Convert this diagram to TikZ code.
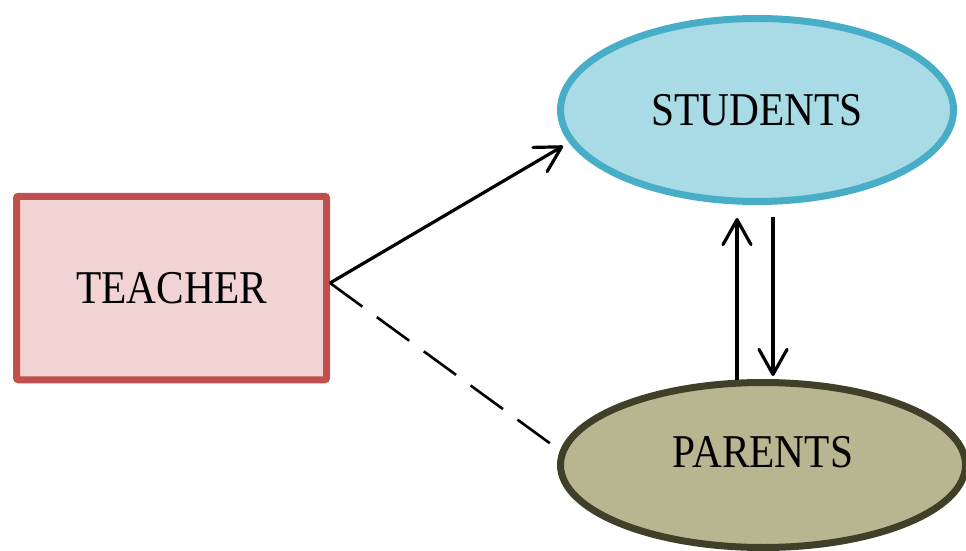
\documentclass[tikz,border=0pt]{standalone}
\usepackage{fontspec}
\setmainfont{Liberation Serif}[FakeStretch=0.88]
\usetikzlibrary{shapes.geometric,arrows.meta,calc}
\definecolor{tfill}{HTML}{F0D3D2}
\definecolor{tline}{HTML}{C0504D}
\definecolor{sfill}{HTML}{A8DBE5}
\definecolor{sline}{HTML}{48ADC6}
\definecolor{pfill}{HTML}{B8B591}
\definecolor{pline}{HTML}{403F28}
\tikzset{
  lbl/.style={font=\fontsize{47}{54}\selectfont, inner sep=0pt, text=black},
  box/.style={lbl, rectangle, line width=7pt, rounded corners=2pt},
  oval/.style={lbl, ellipse, line width=7pt},
  conn/.style={line width=3.2pt, -{Straight Barb[length=25pt,width=28pt,round]}},
  dashconn/.style={line width=2.6pt, dash pattern=on 40pt off 18pt},
}
\begin{document}
\begin{tikzpicture}[x=1pt,y=1pt]
\clip (0,0) rectangle (966,550);
\node[box, draw=tline, fill=tfill, minimum width=310pt, minimum height=183.5pt] (teacher) at (171.5,262) {TEACHER};
\node[oval, draw=sline, fill=sfill, minimum width=393pt, minimum height=183pt] (students) at (757,440) {STUDENTS};
\node[oval, draw=pline, fill=pfill, minimum width=405pt, minimum height=165pt, text depth=26pt] (parents) at (763,85) {PARENTS};
\coordinate (tout) at ($(teacher.east)+(0,5)$);
\coordinate (sin) at ($(students.center)+(-194,-36)$);
\coordinate (pin) at ($(parents.center)+(-208,18)$);
\coordinate (upstart) at ($(parents.center)+(-26,85)$);
\coordinate (upend) at ($(students.center)+(-20,-108)$);
\coordinate (dnstart) at ($(students.center)+(16,-107)$);
\coordinate (dnend) at ($(parents.center)+(10,89)$);
\draw[conn] (tout) -- (sin);
\draw[dashconn] (tout) -- (pin);
\draw[conn] (upstart) -- (upend);
\draw[conn] (dnstart) -- (dnend);
\end{tikzpicture}
\end{document}
